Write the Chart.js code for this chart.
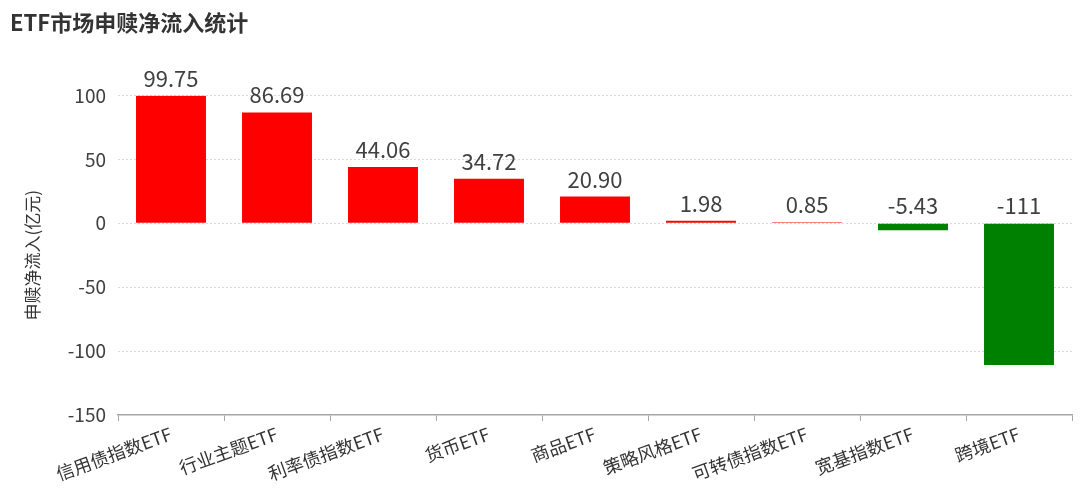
<!DOCTYPE html>
<html>
<head>
<meta charset="utf-8">
<script src="https://cdn.jsdelivr.net/npm/chart.js@4"></script>
<style>
  body { margin: 0; background: #fff; }
  #wrap { width: 1080px; height: 492px; position: relative; }
</style>
</head>
<body>
<div id="wrap"><canvas id="flows"></canvas></div>
<script>
const categories = ['信用债指数ETF', '行业主题ETF', '利率债指数ETF', '货币ETF', '商品ETF', '策略风格ETF', '可转债指数ETF', '宽基指数ETF', '跨境ETF'];
const netFlows = [99.75, 86.69, 44.06, 34.72, 20.90, 1.98, 0.85, -5.43, -110.9];
const yTicks = [-150, -100, -50, 0, 50, 100];

const FONT = '"Noto Sans CJK SC", "Noto Sans", sans-serif';

function fmt(v) {
    return Math.abs(v) >= 100 ? Math.round(v).toString() : v.toFixed(2);
}

// value labels sit above the bar top, or above the zero line for negative bars
const valueLabels = {
    id: 'valueLabels',
    afterDatasetsDraw(chart) {
        const ctx = chart.ctx;
        const meta = chart.getDatasetMeta(0);
        const zero = chart.scales.y.getPixelForValue(0);
        ctx.save();
        ctx.font = '22px ' + FONT;
        ctx.fillStyle = '#404040';
        ctx.textAlign = 'center';
        ctx.textBaseline = 'alphabetic';
        meta.data.forEach((bar, i) => {
            const top = Math.min(bar.y, zero);
            ctx.fillText(fmt(netFlows[i]), bar.x, top - 9);
        });
        ctx.restore();
    }
};

new Chart(document.getElementById('flows'), {
    type: 'bar',
    data: {
        labels: categories,
        datasets: [{
            data: netFlows,
            backgroundColor: netFlows.map(v => v >= 0 ? '#ff0000' : '#008000'),
            barPercentage: 0.66,
            categoryPercentage: 1
        }]
    },
    options: {
        responsive: true,
        maintainAspectRatio: false,
        animation: false,
        layout: { padding: { left: 10, right: 8, top: 0, bottom: 0 } },
        plugins: {
            legend: { display: false },
            tooltip: { enabled: false },
            title: {
                display: true,
                text: 'ETF市场申赎净流入统计',
                align: 'start',
                color: '#333333',
                font: { family: FONT, size: 22, weight: 'bold', lineHeight: 1.2 },
                padding: { top: 9, bottom: 60 }
            }
        },
        scales: {
            x: {
                afterFit: s => { s.height = 77; },
                grid: {
                    offset: true,
                    drawOnChartArea: false,
                    drawTicks: true,
                    tickLength: 6,
                    color: '#a6a6a6'
                },
                border: { display: true, color: '#a6a6a6', width: 1.5 },
                ticks: {
                    color: '#333333',
                    font: { family: FONT, size: 18 },
                    minRotation: 20,
                    maxRotation: 20,
                    padding: 2,
                    autoSkip: false
                }
            },
            y: {
                min: yTicks[0],
                max: yTicks[yTicks.length - 1],
                afterFit: s => { s.width = 108; },
                afterBuildTicks: s => { s.ticks = yTicks.map(v => ({ value: v })); },
                grid: {
                    drawTicks: false,
                    color: c => c.tick && c.tick.value === yTicks[0] ? 'rgba(0,0,0,0)' : '#d9d9d9',
                    lineWidth: 1
                },
                border: { display: false, dash: [2, 2] },
                ticks: {
                    color: '#404040',
                    font: { family: FONT, size: 19 },
                    padding: 12
                },
                title: {
                    display: true,
                    text: '申赎净流入(亿元)',
                    color: '#333333',
                    font: { family: FONT, size: 17 },
                    padding: { top: 12, bottom: 0 }
                }
            }
        }
    },
    plugins: [valueLabels]
});
</script>
</body>
</html>
